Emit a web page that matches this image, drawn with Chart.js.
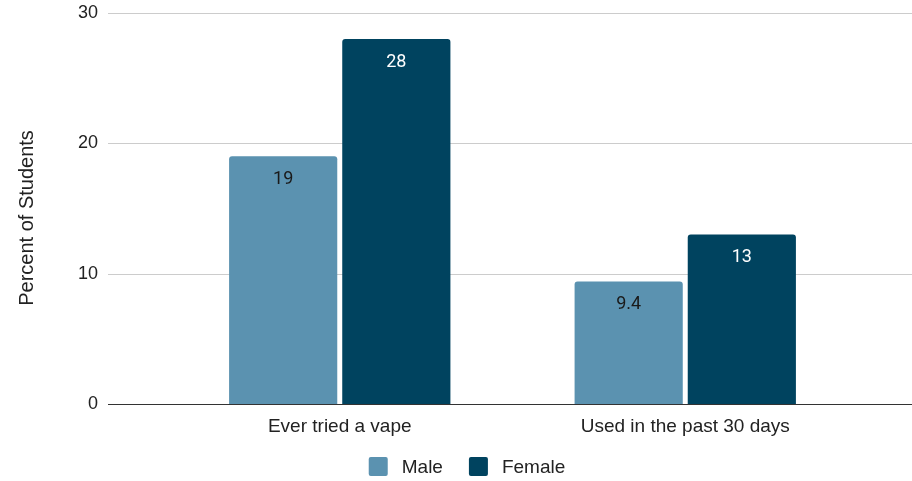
<!DOCTYPE html>
<html>
<head>
<meta charset="utf-8">
<script src="https://cdn.jsdelivr.net/npm/chart.js@4.4.1/dist/chart.umd.min.js"></script>
<style>
  html, body { margin: 0; padding: 0; background: #fff; }
  #wrap { position: relative; width: 912px; height: 481px; }
</style>
</head>
<body>
<div id="wrap"><canvas id="vapeChart"></canvas></div>
<script>
const categories = ['Ever tried a vape', 'Used in the past 30 days'];
const maleValues = [19, 9.4];
const femaleValues = [28, 13];
const yTicks = [0, 10, 20, 30];
const yTitle = 'Percent of Students';

const MALE_COLOR = '#5b92b0';
const FEMALE_COLOR = '#00435f';
const TEXT_COLOR = '#222222';
const AXIS_FONT = '"Liberation Sans", Arial, sans-serif';

// horizontal gridlines run past the category area, like the source chart
const fullGridPlugin = {
    id: 'fullGrid',
    beforeDatasetsDraw(chart) {
        const { ctx } = chart;
        const y = chart.scales.y;
        ctx.save();
        yTicks.forEach(t => {
            const py = Math.round(y.getPixelForValue(t)) + 0.5;
            ctx.beginPath();
            ctx.strokeStyle = t === 0 ? '#333333' : '#cccccc';
            ctx.lineWidth = 1;
            ctx.moveTo(108, py);
            ctx.lineTo(chart.width, py);
            ctx.stroke();
        });
        ctx.restore();
    }
};

const barLabelPlugin = {
    id: 'barLabels',
    afterDatasetsDraw(chart) {
        const { ctx } = chart;
        ctx.save();
        ctx.font = '18px Roboto, sans-serif';
        ctx.textAlign = 'center';
        ctx.textBaseline = 'middle';
        chart.data.datasets.forEach((ds, i) => {
            chart.getDatasetMeta(i).data.forEach((bar, j) => {
                ctx.fillStyle = i === 0 ? '#1a1a1a' : '#ffffff';
                ctx.fillText(String(ds.data[j]), bar.x, bar.y + 23);
            });
        });
        ctx.restore();
    }
};

// y title and legend drawn by hand so spacing matches the source
const extrasPlugin = {
    id: 'extras',
    afterDraw(chart) {
        const { ctx } = chart;
        ctx.save();
        ctx.fillStyle = TEXT_COLOR;
        ctx.font = '20px ' + AXIS_FONT;
        ctx.textAlign = 'center';
        ctx.textBaseline = 'middle';
        ctx.translate(27, 218);
        ctx.rotate(-Math.PI / 2);
        ctx.fillText(yTitle, 0, 0);
        ctx.restore();

        const box = 19, textGap = 14, itemGap = 26, cy = 466.5;
        ctx.save();
        ctx.font = '19px ' + AXIS_FONT;
        ctx.textBaseline = 'middle';
        const items = chart.data.datasets.map(ds => ({ text: ds.label, color: ds.backgroundColor, w: ctx.measureText(ds.label).width }));
        const total = items.reduce((s, it) => s + box + textGap + it.w, 0) + itemGap * (items.length - 1);
        let x = 467 - total / 2;
        items.forEach(it => {
            ctx.fillStyle = it.color;
            ctx.beginPath();
            ctx.roundRect(x, cy - box / 2, box, box, 2);
            ctx.fill();
            ctx.fillStyle = TEXT_COLOR;
            ctx.fillText(it.text, x + box + textGap, cy + 1);
            x += box + textGap + it.w + itemGap;
        });
        ctx.restore();
    }
};

new Chart(document.getElementById('vapeChart'), {
    type: 'bar',
    data: {
        labels: categories,
        datasets: [
            { label: 'Male', data: maleValues, backgroundColor: MALE_COLOR },
            { label: 'Female', data: femaleValues, backgroundColor: FEMALE_COLOR }
        ]
    },
    options: {
        responsive: true,
        maintainAspectRatio: false,
        animation: false,
        layout: { padding: { top: 13, right: 54, left: 0, bottom: 39 } },
        datasets: {
            bar: {
                categoryPercentage: 0.655,
                barPercentage: 0.956,
                borderRadius: { topLeft: 3, topRight: 3 },
                borderSkipped: 'bottom'
            }
        },
        scales: {
            x: {
                grid: { display: false, drawTicks: false },
                border: { display: false },
                ticks: { color: TEXT_COLOR, font: { size: 19, family: AXIS_FONT }, padding: 11, maxRotation: 0 },
                afterFit(scale) { scale.height = 38; }
            },
            y: {
                min: 0, max: 30,
                afterBuildTicks(scale) { scale.ticks = yTicks.map(v => ({ value: v })); },
                grid: { display: false, drawTicks: false },
                border: { display: false },
                ticks: { color: TEXT_COLOR, font: { size: 18, family: AXIS_FONT }, padding: 69 },
                title: { display: false },
                afterFit(scale) {
                    scale.width = 167;
                    scale.paddingTop = 0;
                    scale.paddingBottom = 0;
                }
            }
        },
        plugins: {
            legend: { display: false },
            tooltip: { enabled: false }
        }
    },
    plugins: [fullGridPlugin, barLabelPlugin, extrasPlugin]
});
</script>
</body>
</html>
